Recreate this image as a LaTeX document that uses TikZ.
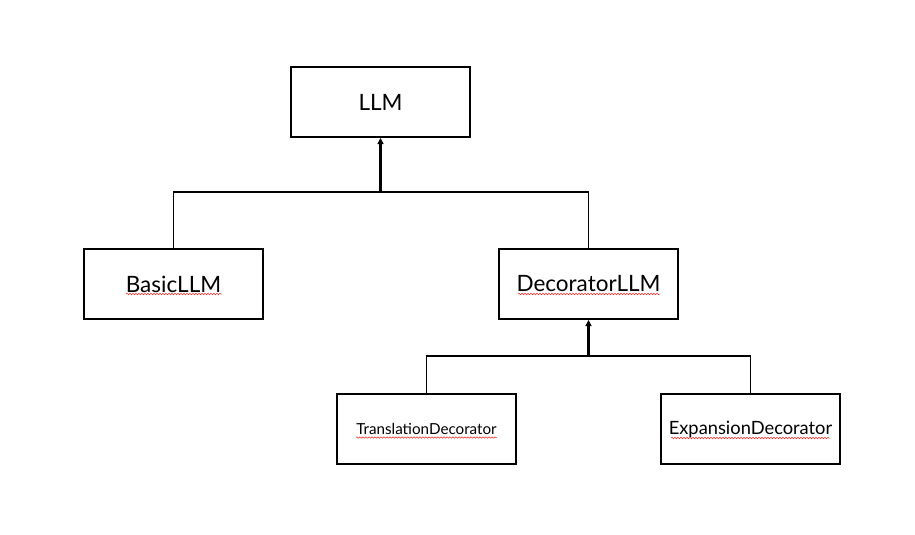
\documentclass[tikz,border=0pt]{standalone}
\usepackage{fontspec}
\setmainfont{Lato}
\usetikzlibrary{arrows.meta,decorations.pathmorphing}
\begin{document}
\begin{tikzpicture}[x=1pt,y=-1pt,
  box/.style={draw=black,line width=2pt,minimum width=179pt,minimum height=70pt,inner sep=0pt,fill=white},
  wire/.style={draw=black,line width=1.8pt},
  arr/.style={draw=black,line width=2.4pt,-{Triangle[length=6pt,width=6pt]}},
  squiggle/.style={draw=red!85,line width=0.5pt,decorate,decoration={snake,segment length=3pt,amplitude=0.7pt}}]
\useasboundingbox (0,0) rectangle (915,535);
\node[box,font=\fontsize{22.5}{26}\selectfont] (llm) at (380.5,102) {LLM};
\node[box,font=\fontsize{22.5}{26}\selectfont] (basic) at (173.5,284) {BasicLLM};
\node[box,font=\fontsize{22.5}{26}\selectfont] (dec) at (588.5,284) {DecoratorLLM};
\node[box,font=\fontsize{15.2}{18}\selectfont] (trans) at (426.5,429) {TranslationDecorator};
\node[box,font=\fontsize{18.3}{21}\selectfont] (exp) at (750.5,429) {ExpansionDecorator};
\coordinate (j1) at (380.5,192);
\coordinate (j2) at (588.5,356);
\draw[wire] (basic.north) |- (j1) -| (dec.north);
\draw[arr] (j1) -- (llm.south);
\draw[wire] (trans.north) |- (j2) -| (exp.north);
\draw[arr] (j2) -- (dec.south);
\draw[squiggle] (126,294) -- (222,294);
\draw[squiggle] (518,294) -- (660,294);
\draw[squiggle] (356,437.5) -- (497,437.5);
\draw[squiggle] (671,438) -- (830,438);
\end{tikzpicture}
\end{document}
